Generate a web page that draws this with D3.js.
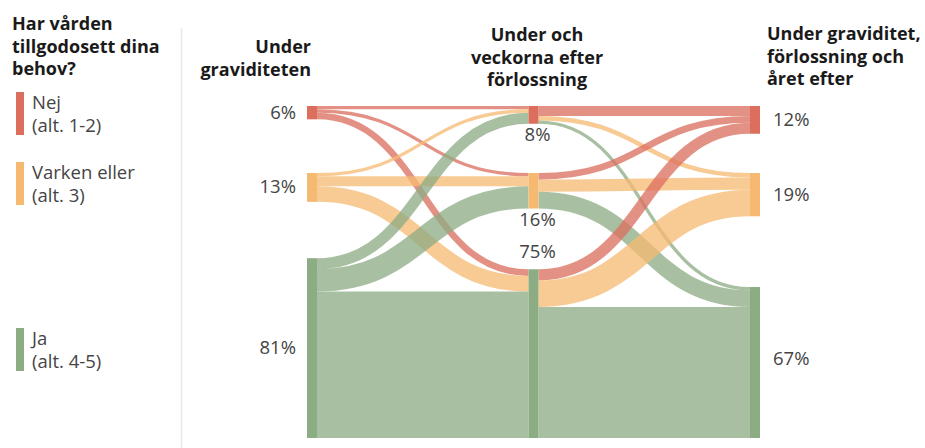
<!DOCTYPE html>
<html>
<head>
<meta charset="utf-8">
<script src="https://cdn.jsdelivr.net/npm/d3@7/dist/d3.min.js"></script>
<style>
  html, body { margin: 0; padding: 0; background: #fff; }
  svg { display: block; font-family: "Open Sans", Lato, sans-serif; }
</style>
</head>
<body>
<svg id="chart" width="925" height="448"></svg>
<script>
// ---------- DATA ----------
const categories = ["Nej", "Varken eller", "Ja"];
const legendLines = [["Nej", "(alt. 1-2)"], ["Varken eller", "(alt. 3)"], ["Ja", "(alt. 4-5)"]];
const legendTitle = ["Har vården", "tillgodosett dina", "behov?"];
const columnTitles = [
  ["Under", "graviditeten"],
  ["Under och", "veckorna efter", "förlossning"],
  ["Under graviditet,", "förlossning och", "året efter"]
];
// flows from column 1 to column 2 (rows: source category, cols: target category), percent
const flows12 = [
  [1.5, 1.5, 3],
  [1.5, 4.5, 7],
  [5, 10, 66]
];
// flows from column 2 to column 3
const flows23 = [
  [4.5, 2, 1.5],
  [3, 5.5, 7.5],
  [5, 12, 59]
];
const labels1 = ["6%", "13%", "81%"];
const labels2 = ["8%", "16%", "75%"];
const labels3 = ["12%", "19%", "67%"];
const colors = ["#dc6e5e", "#f6b972", "#8cac83"];

// ---------- LAYOUT ----------
const svg = d3.select("#chart");
const nodeW = 10;
const yTop = 106, yBottom = 438, slotGap = 67;
const h = d3.scaleLinear().domain([0, 100]).range([0, 222]);
const colX = d3.scalePoint().domain([0, 1, 2]).range([307, 750]);

const rowSum = m => m.map(r => d3.sum(r));
const colSum = m => categories.map((_, j) => d3.sum(m, r => r[j]));
const nodeVals = [
  rowSum(flows12),
  categories.map((_, j) => Math.max(colSum(flows12)[j], rowSum(flows23)[j])),
  colSum(flows23)
];

const nodes = nodeVals.map((vals, c) => vals.map((v, i) => {
  const height = h(v);
  let y0;
  if (i === 0) y0 = yTop;
  else if (i === 1) y0 = yTop + slotGap;
  else y0 = yBottom - height;
  return { c, i, x0: colX(c), x1: colX(c) + nodeW, y0, y1: y0 + height, outOff: 0, inOff: 0 };
}));

const links = [];
[[flows12, 0, "source"], [flows23, 1, "target"]].forEach(([m, c, colorBy]) => {
  m.forEach((row, si) => row.forEach((v, ti) => {
    const s = nodes[c][si], t = nodes[c + 1][ti];
    const w = h(v);
    const ys = s.y0 + s.outOff + w / 2; s.outOff += w;
    links.push({ s, t, w, ys, si, ti, colorBy });
  }));
});
[1, 2].forEach(c => {
  links.filter(l => l.t.c === c)
    .sort((a, b) => a.si - b.si)
    .forEach(l => { l.yt = l.t.y0 + l.t.inOff + l.w / 2; l.t.inOff += l.w; });
});

const linkGen = d3.linkHorizontal().x(d => d[0]).y(d => d[1]);

svg.append("g").selectAll("path").data(links).join("path")
  .attr("d", l => linkGen({ source: [l.s.x1, l.ys], target: [l.t.x0, l.yt] }))
  .attr("fill", "none")
  .attr("stroke", l => colors[l.colorBy === "source" ? l.si : l.ti])
  .attr("stroke-opacity", 0.76)
  .attr("stroke-width", l => l.w);

svg.append("g").selectAll("rect").data(nodes.flat()).join("rect")
  .attr("x", d => d.x0).attr("y", d => d.y0)
  .attr("width", nodeW).attr("height", d => d.y1 - d.y0)
  .attr("fill", d => colors[d.i]);

// ---------- LABELS ----------
const labelFont = 18.5;
const txtColor = "#444";
svg.append("g").selectAll("text").data(nodes[0]).join("text")
  .attr("x", 296).attr("y", d => (d.y0 + d.y1) / 2 + 6)
  .attr("text-anchor", "end").attr("font-size", labelFont).attr("fill", txtColor)
  .text(d => labels1[d.i]);
svg.append("g").selectAll("text").data(nodes[1]).join("text")
  .attr("x", d => d.x1 - 1)
  .attr("y", d => d.i === 2 ? d.y0 - 11 : d.y1 + 17)
  .attr("text-anchor", "middle").attr("font-size", labelFont).attr("fill", txtColor)
  .text(d => labels2[d.i]);
svg.append("g").selectAll("text").data(nodes[2]).join("text")
  .attr("x", d => d.x1 + 13).attr("y", d => (d.y0 + d.y1) / 2 + 6 - (d.i === 2 ? 4 : 0))
  .attr("text-anchor", "start").attr("font-size", labelFont).attr("fill", txtColor)
  .text(d => labels3[d.i]);

const titleSpecs = [
  { x: 311, anchor: "end", y: 53 },
  { x: 537, anchor: "middle", y: 41 },
  { x: 767, anchor: "start", y: 40 }
];
columnTitles.forEach((lines, c) => {
  const sp = titleSpecs[c];
  const t = svg.append("text").attr("font-size", 18).attr("font-weight", 700)
    .attr("fill", "#1a1a1a").attr("text-anchor", sp.anchor);
  lines.forEach((ln, k) => t.append("tspan").attr("x", sp.x).attr("y", sp.y + k * 22.5).text(ln));
});

svg.append("line").attr("x1", 181.5).attr("x2", 181.5).attr("y1", 28).attr("y2", 448)
  .attr("stroke", "#e8e8e8").attr("stroke-width", 1.5);

const lt = svg.append("g");
legendTitle.forEach((ln, k) => lt.append("text").attr("font-size", 18).attr("font-weight", 700)
  .attr("fill", "#1a1a1a").attr("x", 12).attr("y", 30 + k * 22.5).text(ln));
const legendY = [92, 162, 328];
const lg = svg.append("g").selectAll("g").data(categories).join("g")
  .attr("transform", (d, i) => `translate(16,${legendY[i]})`);
lg.append("rect").attr("width", 8).attr("height", 43).attr("fill", (d, i) => colors[i]);
lg.each(function (d, i) {
  const t = d3.select(this).append("text").attr("font-size", labelFont).attr("fill", txtColor);
  legendLines[i].forEach((ln, k) => t.append("tspan").attr("x", 16).attr("y", 17 + k * 23).text(ln));
});
</script>
</body>
</html>
